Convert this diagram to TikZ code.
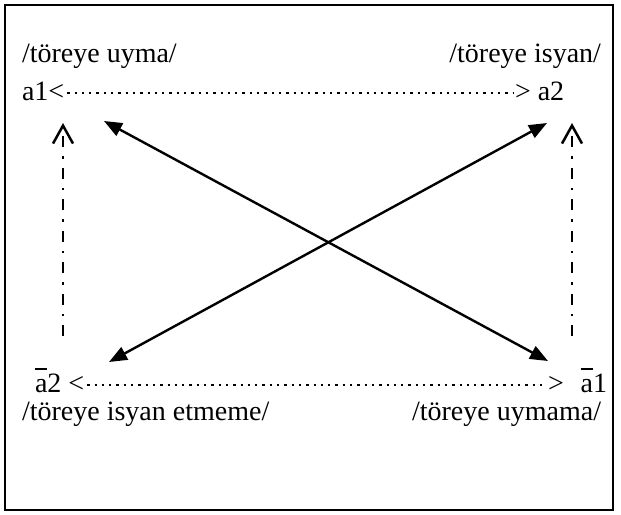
\documentclass[tikz,border=0pt]{standalone}
\usepackage{fontspec}
\setmainfont{Liberation Serif}
\usetikzlibrary{arrows.meta}

% letter "a" with a bar set high above it
\newcommand\barredA{\leavevmode\rlap{\raisebox{0.80em}{\rule{0.44em}{0.05em}}}a}

\tikzset{
  lbl/.style={font=\fontsize{28}{34}\selectfont, inner sep=0pt, outer sep=0pt},
  dotrow/.style={line width=2.3pt, dash pattern=on 2.3pt off 5pt},
  dashdotarrow/.style={line width=2.5pt, dash pattern=on 11pt off 9pt on 2.5pt off 9pt,
    -{Straight Barb[length=18pt,width=20pt,line width=2.5pt]}},
  crossarrow/.style={line width=2.4pt, {Triangle[length=18pt,width=14pt]}-{Triangle[length=18pt,width=14pt]}}
}

\begin{document}
\begin{tikzpicture}[x=1pt,y=-1pt]
  % frame
  \draw[line width=2pt] (5,5) rectangle (613,510);
  \useasboundingbox (0,0) rectangle (621,514);

  % upper row
  \node[lbl, anchor=base west] (t1) at (22,62) {/töreye uyma/};
  \node[lbl, anchor=base east] (t2) at (601,62) {/töreye isyan/};
  \node[lbl, anchor=base west] (a1) at (22,100) {a1<};
  \node[lbl, anchor=base west] (a2) at (515,100) {> a2};
  \draw[dotrow] ([shift={(3,-7)}]a1.base east) -- ([shift={(-2,-7)}]a2.base west);

  % lower row
  \node[lbl, anchor=base west] (b2) at (35,392) {\barredA2 <};
  \node[lbl, anchor=base west] (b1) at (548,392) {>\hspace{0.6em}\barredA1};
  \node[lbl, anchor=base west] (t3) at (22,420) {/töreye isyan etmeme/};
  \node[lbl, anchor=base east] (t4) at (601,420) {/töreye uymama/};
  \draw[dotrow] ([shift={(3,-7)}]b2.base east) -- ([shift={(-2,-7)}]b1.base west);

  % vertical dash-dot arrows
  \coordinate (lb) at (63,336);
  \coordinate (lt) at (63,123);
  \coordinate (rb) at (572,336);
  \coordinate (rt) at (572,123);
  \draw[dashdotarrow] (lb) -- (lt);
  \draw[dashdotarrow] (rb) -- (rt);

  % crossing arrows
  \coordinate (x1) at (104,121);
  \coordinate (x2) at (548,361);
  \coordinate (y1) at (547,123);
  \coordinate (y2) at (109,362);
  \draw[crossarrow] (x1) -- (x2);
  \draw[crossarrow] (y1) -- (y2);
\end{tikzpicture}
\end{document}
